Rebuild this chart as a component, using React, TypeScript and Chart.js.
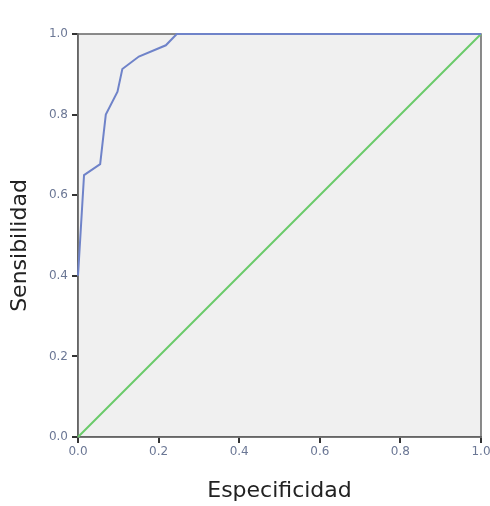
import React, { useEffect, useRef } from "react";
import { Chart, registerables } from "chart.js";

Chart.register(...registerables);

const rocX = [0, 0.015, 0.055, 0.069, 0.098, 0.11, 0.151, 0.218, 0.245, 1.0];
const rocY = [0.4, 0.65, 0.677, 0.8, 0.857, 0.913, 0.944, 0.972, 1.0, 1.0];
const refX = [0, 1];
const refY = [0, 1];
const tickValues = [0, 0.2, 0.4, 0.6, 0.8, 1.0];
const xTitle = "Especificidad";
const yTitle = "Sensibilidad";

const TITLE_FONT = "22px 'DejaVu Sans', sans-serif";

const boxPlugin = {
  id: "boxPlugin",
  beforeDraw(chart: any) {
    const { ctx, chartArea } = chart;
    ctx.save();
    ctx.fillStyle = "#f0f0f0";
    ctx.fillRect(chartArea.left, chartArea.top, chartArea.right - chartArea.left, chartArea.bottom - chartArea.top);
    ctx.restore();
  },
  beforeDatasetsDraw(chart: any) {
    const { ctx, chartArea } = chart;
    ctx.save();
    ctx.strokeStyle = "#666666";
    ctx.lineWidth = 1.5;
    ctx.strokeRect(chartArea.left, chartArea.top, chartArea.right - chartArea.left, chartArea.bottom - chartArea.top);
    ctx.restore();
  },
  afterDraw(chart: any) {
    const { ctx, chartArea } = chart;
    ctx.save();
    ctx.font = TITLE_FONT;
    ctx.fillStyle = "#222222";
    ctx.textAlign = "center";
    ctx.textBaseline = "middle";
    const cy = (chartArea.top + chartArea.bottom) / 2 + 10;
    ctx.translate(20, cy);
    ctx.rotate(-Math.PI / 2);
    ctx.fillText(yTitle, 0, 0);
    ctx.restore();
  },
};

export default function App() {
  const ref = useRef<HTMLCanvasElement>(null);
  useEffect(() => {
    document.body.style.margin = "0";
    const tickFont = { family: "'DejaVu Sans', sans-serif", size: 12 };
    const titleFont = { family: "'DejaVu Sans', sans-serif", size: 22 };
    const chart = new Chart(ref.current!, {
      type: "scatter",
      data: {
        datasets: [
          {
            data: rocX.map((x, i) => ({ x, y: rocY[i] })),
            showLine: true,
            borderColor: "#6f83c9",
            borderWidth: 2,
            pointRadius: 0,
            fill: false,
            clip: false,
            order: 1,
          },
          {
            data: refX.map((x, i) => ({ x, y: refY[i] })),
            showLine: true,
            borderColor: "#6acb6a",
            borderWidth: 2,
            pointRadius: 0,
            fill: false,
            clip: false,
            order: 2,
          },
        ],
      },
      options: {
        animation: false,
        responsive: false,
        maintainAspectRatio: false,
        layout: { padding: { top: 34, right: 9, left: 0, bottom: 0 } },
        plugins: { legend: { display: false }, tooltip: { enabled: false } },
        scales: {
          x: {
            type: "linear",
            min: 0,
            max: 1,
            afterBuildTicks: (s: any) => {
              s.ticks = tickValues.map((v) => ({ value: v }));
            },
            afterFit: (s: any) => {
              s.height = 69;
              s.paddingLeft = 0;
              s.paddingRight = 0;
            },
            ticks: {
              color: "#6b7795",
              font: tickFont,
              padding: 2,
              maxRotation: 0,
              callback: (v: any) => Number(v).toFixed(1),
            },
            grid: { drawOnChartArea: false, drawTicks: true, tickLength: 6, color: "#333333", lineWidth: 2 },
            border: { display: true, color: "#666666", width: 1.5 },
            title: { display: true, text: xTitle, color: "#222222", font: titleFont, padding: { top: 0, bottom: 2 } },
          },
          y: {
            type: "linear",
            min: 0,
            max: 1,
            afterBuildTicks: (s: any) => {
              s.ticks = tickValues.map((v) => ({ value: v }));
            },
            afterFit: (s: any) => {
              s.width = 78;
              s.paddingTop = 0;
              s.paddingBottom = 0;
            },
            ticks: {
              color: "#6b7795",
              font: tickFont,
              padding: 4,
              callback: (v: any) => Number(v).toFixed(1),
            },
            grid: { drawOnChartArea: false, drawTicks: true, tickLength: 6, color: "#333333", lineWidth: 2 },
            border: { display: true, color: "#666666", width: 1.5 },
            title: { display: false, text: yTitle },
          },
        },
      },
      plugins: [boxPlugin],
    });
    return () => chart.destroy();
  }, []);
  return (
    <div style={{ position: "absolute", left: 0, top: 0, width: 490, height: 506, background: "#fff" }}>
      <canvas ref={ref} width={490} height={506} style={{ width: 490, height: 506 }} />
    </div>
  );
}
